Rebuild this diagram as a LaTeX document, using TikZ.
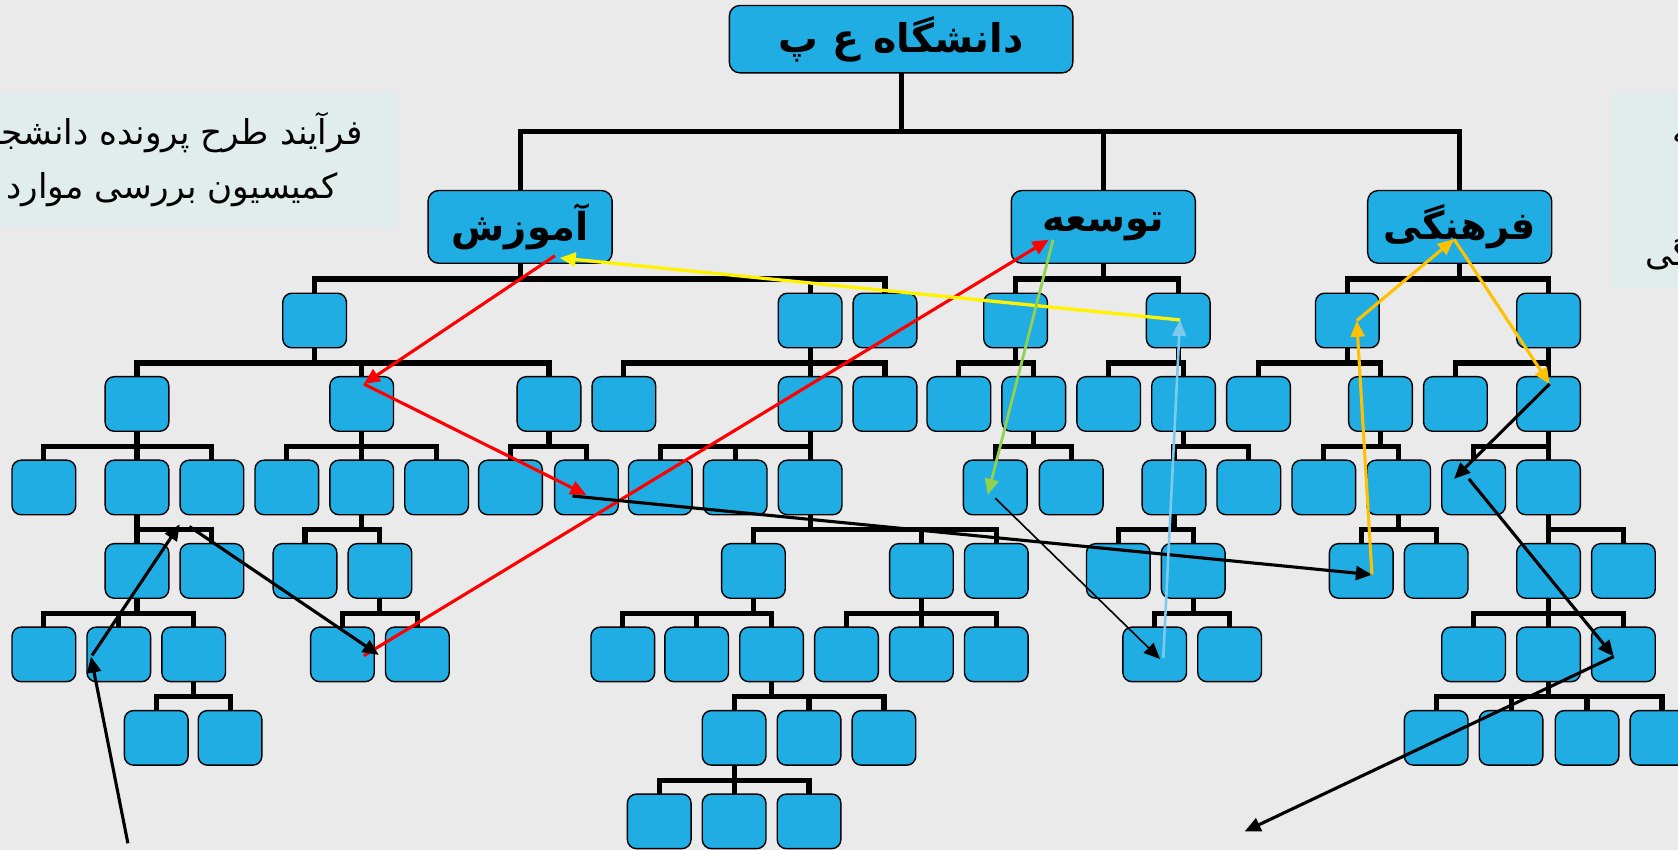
\documentclass[tikz,border=0pt]{standalone}
\usepackage{fontspec}
\usetikzlibrary{arrows.meta,calc}
\TeXXeTstate=1
\newfontfamily\arfont[Script=Arabic]{DejaVu Sans}
\definecolor{canvas}{HTML}{EAEAEA}
\definecolor{notefill}{HTML}{E1ECEC}
\definecolor{boxblue}{HTML}{1FADE3}
\definecolor{skyline}{HTML}{7CCBEF}
\definecolor{leafgreen}{HTML}{92D050}
\definecolor{amber}{HTML}{FFC000}
\pgfdeclarelayer{ties}
\pgfsetlayers{ties,main}
% connector from a parent box down to each child of the next row
\newcommand\fork[3]{%
  \begin{pgfonlayer}{ties}
  \foreach \c in {#3}{\draw[tie] (#1.south) -- ++(0,13.5) -| (#2-\c.north);}
  \end{pgfonlayer}}
\begin{document}
\begin{tikzpicture}[x=1pt,y=-1pt,
  sbox/.style={draw=black,line width=1.3pt,fill=boxblue,rounded corners=8.5pt,
    minimum width=59.5pt,minimum height=51pt,inner sep=0pt},
  headbox/.style={draw=black,line width=1.3pt,fill=boxblue,rounded corners=10pt,
    minimum width=172pt,minimum height=68pt,inner sep=0pt,
    font=\arfont\bfseries\fontsize{36}{40}\selectfont},
  tie/.style={line width=4.8pt,line cap=rect},
  arr/.style={-{Triangle[length=15pt,width=13pt]},line width=2.9pt},
  thinarr/.style={-{Triangle[length=15pt,width=13pt]},line width=1.5pt},
  notetext/.style={font=\arfont\fontsize{32}{36}\selectfont,inner sep=0pt}]
\useasboundingbox (0,0) rectangle (1568,794);
\begin{pgfonlayer}{ties}
\fill[canvas] (0,0) rectangle (1568,794);
\end{pgfonlayer}
\clip (0,0) rectangle (1568,794);

% side notes
\node[fill=notefill,minimum width=422pt,minimum height=127pt,inner sep=0pt] (leftnote) at (160,149.2) {};
\node[notetext] (lefta) at (162,124) {\beginR فرآیند طرح پرونده دانشجو\endR};
\node[notetext] (leftb) at (161,177) {\beginR کمیسیون بررسی موارد\endR};
\node[fill=notefill,minimum width=200pt,minimum height=182pt,inner sep=0pt,anchor=north west] (rightnote) at (1506,87) {};
\node[notetext,anchor=west] (righta) at (1563,124) {\beginR کمیته\endR};
\node[notetext,anchor=west] (rightc) at (1537,238) {\beginR فرهنگی\endR};

% head boxes
\node[headbox,minimum width=321pt,minimum height=63pt,font=\arfont\bfseries\fontsize{37}{40}\selectfont] (root) at (842,36.6) {\beginR دانشگاه ع پ\endR};
\node[headbox] (amz) at (486,212) {\beginR آموزش\endR};
\node[headbox] (tws) at (1031,212) {\beginR توسعه\endR};
\node[headbox] (frh) at (1364,212) {\beginR فرهنگی\endR};

% unit boxes, row by row
\foreach \x in {294,757,827,949,1101,1259,1447}
  \node[sbox] (b2-\x) at (\x,299.5) {};
\foreach \x in {128,338,513,583,757,827,896,966,1036,1106,1176,1290,1360,1447}
  \node[sbox] (b3-\x) at (\x,377.5) {};
\foreach \x in {41,128,198,268,338,408,477,548,617,687,757,930,1001,1097,1167,1237,1307,1377,1447}
  \node[sbox] (b4-\x) at (\x,455.5) {};
\foreach \x in {128,198,285,355,704,861,931,1045,1115,1272,1342,1447,1517}
  \node[sbox] (b5-\x) at (\x,533.5) {};
\foreach \x in {41,111,181,320,390,582,651,721,791,861,931,1079,1149,1377,1447,1517}
  \node[sbox] (b6-\x) at (\x,611.5) {};
\foreach \x in {146,215,686,756,826,1342,1412,1483,1553}
  \node[sbox] (b7-\x) at (\x,689.5) {};
\foreach \x in {616,686,756}
  \node[sbox] (b8-\x) at (\x,767.5) {};

% hierarchy lines
\begin{pgfonlayer}{ties}
\foreach \h in {amz,tws,frh}{\draw[tie] (root.south) -- ++(0,54) -| (\h.north);}
\foreach \c in {294,757,827}{\draw[tie] (amz.south) -- ++(0,14) -| (b2-\c.north);}
\foreach \c in {949,1101}{\draw[tie] (tws.south) -- ++(0,14) -| (b2-\c.north);}
\foreach \c in {1259,1447}{\draw[tie] (frh.south) -- ++(0,14) -| (b2-\c.north);}
\end{pgfonlayer}
\fork{b2-294}{b3}{128,338,513}
\fork{b2-757}{b3}{583,757,827}
\fork{b2-949}{b3}{896,966}
\fork{b2-1101}{b3}{1036,1106}
\fork{b2-1259}{b3}{1176,1290}
\fork{b2-1447}{b3}{1360,1447}
\fork{b3-128}{b4}{41,128,198}
\fork{b3-338}{b4}{268,338,408}
\fork{b3-513}{b4}{477,548}
\fork{b3-757}{b4}{617,687,757}
\fork{b3-966}{b4}{930,1001}
\fork{b3-1106}{b4}{1097,1167}
\fork{b3-1290}{b4}{1237,1307}
\fork{b3-1447}{b4}{1377,1447}
\fork{b4-128}{b5}{128,198}
\fork{b4-338}{b5}{285,355}
\fork{b4-757}{b5}{704,861,931}
\fork{b4-1097}{b5}{1045,1115}
\fork{b4-1307}{b5}{1272,1342}
\fork{b4-1447}{b5}{1447,1517}
\fork{b5-128}{b6}{41,111,181}
\fork{b5-355}{b6}{320,390}
\fork{b5-704}{b6}{582,651,721}
\fork{b5-861}{b6}{791,861,931}
\fork{b5-1115}{b6}{1079,1149}
\fork{b5-1447}{b6}{1377,1447,1517}
\fork{b6-181}{b7}{146,215}
\fork{b6-721}{b7}{686,756,826}
\fork{b6-1447}{b7}{1342,1412,1483,1553}
\fork{b7-686}{b8}{616,686,756}

% flow arrows
\coordinate (r1s) at ($(amz)+(32.6,27)$);
\coordinate (r1e) at ($(b3-338)+(2,-18.7)$);
\coordinate (r2e) at ($(b4-548)+(0,7)$);
\coordinate (k1s) at ($(b4-548)+(-13,8)$);
\coordinate (k1e) at ($(b5-1272)+(10,3.5)$);
\coordinate (r3s) at ($(b6-320)+(20,1.2)$);
\coordinate (r3e) at ($(tws)+(-51,12)$);
\coordinate (k2s) at ($(b5-198)+(-21,-41.5)$);
\coordinate (k2e) at ($(b6-320)+(34,0.5)$);
\coordinate (k3s) at ($(b6-111)+(-25,1)$);
\coordinate (k3e) at ($(b5-128)+(40,-43.5)$);
\coordinate (k4s) at (119.5,788);
\coordinate (k4e) at ($(b6-111)+(-26,2)$);
\coordinate (y1s) at ($(b2-1101)+(1.6,-0.5)$);
\coordinate (y1e) at ($(amz)+(37,29)$);
\coordinate (lbs) at ($(b6-1079)+(8,3.5)$);
\coordinate (gs) at ($(tws)+(-47,12)$);
\coordinate (ge) at ($(b4-930)+(-7,7)$);
\coordinate (k5s) at ($(b4-930)+(0,10)$);
\coordinate (k5e) at ($(b6-1079)+(5,4.3)$);
\coordinate (o1e) at ($(b2-1259)+(8.8,0.2)$);
\coordinate (o2e) at ($(frh)+(-5.3,11.5)$);
\coordinate (o3e) at ($(b3-1447)+(1,-18.7)$);
\coordinate (k6e) at ($(b4-1377)+(-18.3,-8)$);
\coordinate (k7s) at ($(b4-1377)+(-4.4,-8)$);
\coordinate (k7e) at ($(b6-1517)+(-9,2)$);
\coordinate (k8e) at (1163,777);

\draw[arr,red] (r1s) -- (r1e);
\draw[arr,red] (r1e) -- (r2e);
\draw[arr,red] (r3s) -- (r3e);
\draw[arr] (k1s) -- (k1e);
\draw[arr] (k2s) -- (k2e);
\draw[arr] (k3s) -- (k3e);
\draw[arr] (k4s) -- (k4e);
\draw[thinarr] (k5s) -- (k5e);
\draw[arr,skyline,line width=2.4pt] (lbs) -- (y1s);
\draw[arr,yellow,line width=3.1pt] (y1s) -- (y1e);
\draw[arr,leafgreen,line width=2.6pt] (gs) -- (ge);
\draw[arr,amber] (k1e) -- (o1e);
\draw[arr,amber] (o1e) -- (o2e);
\draw[arr,amber] (o2e) -- (o3e);
\draw[arr] (o3e) -- (k6e);
\draw[arr] (k7s) -- (k7e);
\draw[arr] (k7e) -- (k8e);
\end{tikzpicture}
\end{document}
